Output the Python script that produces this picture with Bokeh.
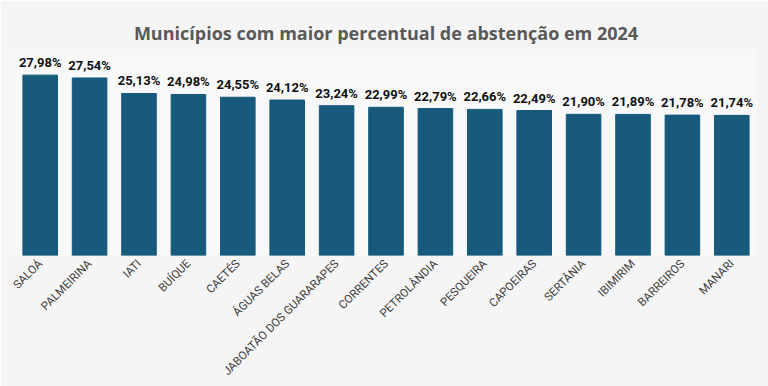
from bokeh.plotting import figure
from bokeh.models import ColumnDataSource, Range1d
from bokeh.core.properties import value
from bokeh.embed import file_html
from bokeh.resources import INLINE
import math

municipios = ["SALOÁ", "PALMEIRINA", "IATI", "BUÍQUE", "CAETÉS", "ÁGUAS BELAS",
              "JABOATÃO DOS GUARARAPES", "CORRENTES", "PETROLÂNDIA", "PESQUEIRA",
              "CAPOEIRAS", "SERTÂNIA", "IBIMIRIM", "BARREIROS", "MANARI"]
abstencao = [27.98, 27.54, 25.13, 24.98, 24.55, 24.12, 23.24, 22.99, 22.79,
             22.66, 22.49, 21.90, 21.89, 21.78, 21.74]
rotulos = [f"{v:.2f}".replace(".", ",") + "%" for v in abstencao]

src = ColumnDataSource(dict(x=municipios, y=abstencao, lab=rotulos))

p = figure(x_range=municipios, y_range=Range1d(0, 31.8), width=768, height=386,
           output_backend="svg", toolbar_location=None,
           title="Municípios com maior percentual de abstenção em 2024")
p.min_border_left = 15
p.min_border_right = 12
p.min_border_top = 50
p.min_border_bottom = 131

p.title.align = "center"
p.title.vertical_align = "middle"
p.title.text_font = "Open Sans"
p.title.text_font_size = "18px"
p.title.text_font_style = "bold"
p.title.text_color = "#595959"

p.vbar(x="x", top="y", width=0.70, source=src, fill_color="#175a7b",
       line_color="#175a7b")
p.text(x="x", y="y", text="lab", source=src, text_align="center",
       text_baseline="bottom", y_offset=-5, text_font=value("Roboto"),
       text_font_size="13px", text_font_style="bold", text_color="#111111")

p.background_fill_color = "#f8f8f8"
p.border_fill_color = "#f5f5f5"
p.outline_line_color = None
p.grid.grid_line_color = None
p.yaxis.visible = False
p.xaxis.axis_line_color = None
p.xaxis.major_tick_line_color = None
p.xaxis.minor_tick_line_color = None
p.xaxis.major_label_orientation = math.pi / 4
p.xaxis.major_label_text_font = "Roboto"
p.xaxis.major_label_text_font_size = "11.5px"
p.xaxis.major_label_text_color = "#404040"
p.xaxis.major_label_standoff = 0
p.x_range.range_padding = 0

open("out.html", "w").write(file_html(p, INLINE))
